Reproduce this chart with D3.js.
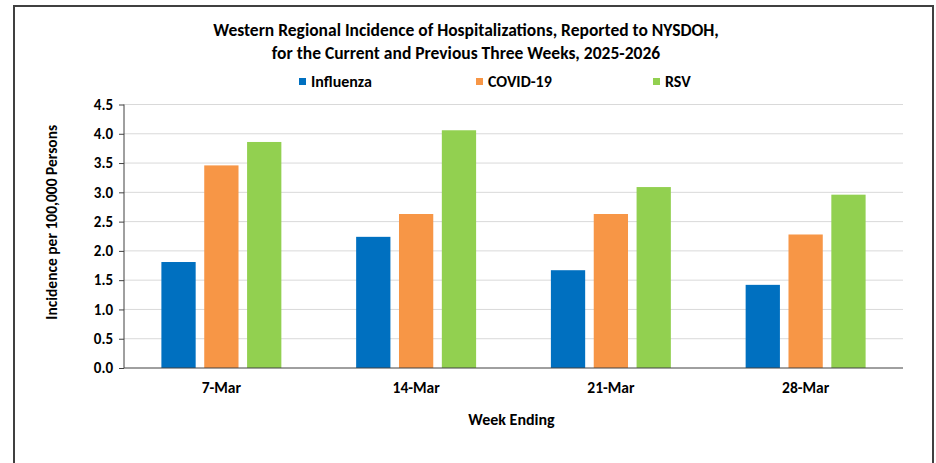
<!DOCTYPE html>
<html>
<head>
<meta charset="utf-8">
<script src="https://cdn.jsdelivr.net/npm/d3@7"></script>
<style>
  body { margin: 0; background: #fff; }
  svg text { font-family: Carlito, Lato, "Open Sans", sans-serif; font-weight: bold; fill: #000; }
</style>
</head>
<body>
<div id="chart"></div>
<script>
var weeks = ["7-Mar", "14-Mar", "21-Mar", "28-Mar"];
var seriesNames = ["Influenza", "COVID-19", "RSV"];
var influenza = [1.81, 2.24, 1.67, 1.42];
var covid = [3.46, 2.63, 2.63, 2.28];
var rsv = [3.86, 4.06, 3.09, 2.96];
var yTicks = [0, 0.5, 1, 1.5, 2, 2.5, 3, 3.5, 4, 4.5];
var colors = ["#0070C0", "#F79646", "#92D050"];

function init(){
    var w = 936, h = 463;
    var left = 124, right = 903, top = 104.5, bottom = 368;

    var svg = d3.select("#chart").append("svg")
                .attr("width", w).attr("height", h);

    // outer frame
    svg.append("rect")
       .attr("x", 14).attr("y", 6).attr("width", 919).attr("height", 470)
       .attr("fill", "none").attr("stroke", "#404040").attr("stroke-width", 2);

    var values = [influenza, covid, rsv];

    var x0 = d3.scaleBand().domain(weeks).range([left, right])
               .paddingInner(0.384).paddingOuter(0.192);
    var x1 = d3.scaleBand().domain(seriesNames).range([0, x0.bandwidth()])
               .paddingInner(0.2);
    var y = d3.scaleLinear().domain([0, 4.5]).range([bottom, top]);

    // gridlines
    svg.append("g").selectAll("line")
       .data(yTicks.slice(1)).enter().append("line")
       .attr("x1", left).attr("x2", right)
       .attr("y1", function(d){ return y(d); })
       .attr("y2", function(d){ return y(d); })
       .attr("stroke", "#d9d9d9").attr("stroke-width", 1);

    // bars
    var groups = svg.selectAll("g.week")
                    .data(weeks).enter().append("g")
                    .attr("class", "week")
                    .attr("transform", function(d){ return "translate(" + x0(d) + ",0)"; });
    groups.selectAll("rect")
          .data(function(d, i){
              return seriesNames.map(function(s, j){ return {s: s, v: values[j][i], j: j}; });
          })
          .enter().append("rect")
          .attr("x", function(d){ return x1(d.s); })
          .attr("width", x1.bandwidth())
          .attr("y", function(d){ return y(d.v); })
          .attr("height", function(d){ return bottom - y(d.v); })
          .attr("fill", function(d){ return colors[d.j]; });

    // y axis
    var yAxis = svg.append("g")
       .attr("transform", "translate(" + left + ",0)")
       .call(d3.axisLeft(y).tickValues(yTicks).tickSize(5).tickPadding(6)
             .tickFormat(d3.format(".1f")));
    yAxis.select(".domain").attr("stroke", "#404040").attr("d", "M0," + top + "V" + bottom);
    yAxis.selectAll(".tick line").attr("stroke", "#404040");
    yAxis.selectAll("text").style("font-size", "15px");

    // x axis
    var xAxis = svg.append("g")
       .attr("transform", "translate(0," + bottom + ")")
       .call(d3.axisBottom(x0).tickSize(0).tickPadding(14).tickSizeOuter(0));
    xAxis.select(".domain").attr("stroke", "#404040").attr("d", "M" + left + ",0H" + right);
    xAxis.selectAll("text").style("font-size", "15.5px");

    // axis titles
    svg.append("text")
       .attr("transform", "translate(57," + ((top + bottom) / 2 - 14) + ") rotate(-90)")
       .attr("text-anchor", "middle").style("font-size", "15.5px")
       .text("Incidence per 100,000 Persons");
    svg.append("text")
       .attr("x", (left + right) / 2 - 2).attr("y", 425)
       .attr("text-anchor", "middle").style("font-size", "16px")
       .text("Week Ending");

    // title
    svg.append("text").attr("x", 466).attr("y", 36)
       .attr("text-anchor", "middle").style("font-size", "17.5px")
       .text("Western Regional Incidence of Hospitalizations, Reported to NYSDOH,");
    svg.append("text").attr("x", 466).attr("y", 59)
       .attr("text-anchor", "middle").style("font-size", "17.5px")
       .text("for the Current and Previous Three Weeks, 2025-2026");

    // legend
    var legendX = [299, 476, 653];
    var legend = svg.selectAll("g.legend")
                    .data(seriesNames).enter().append("g")
                    .attr("class", "legend")
                    .attr("transform", function(d, i){ return "translate(" + legendX[i] + ",78)"; });
    legend.append("rect").attr("width", 7).attr("height", 7)
          .attr("fill", function(d, i){ return colors[i]; });
    legend.append("text").attr("x", 12).attr("y", 9)
          .style("font-size", "16px")
          .text(function(d){ return d; });
}
window.onload = init;
</script>
</body>
</html>
